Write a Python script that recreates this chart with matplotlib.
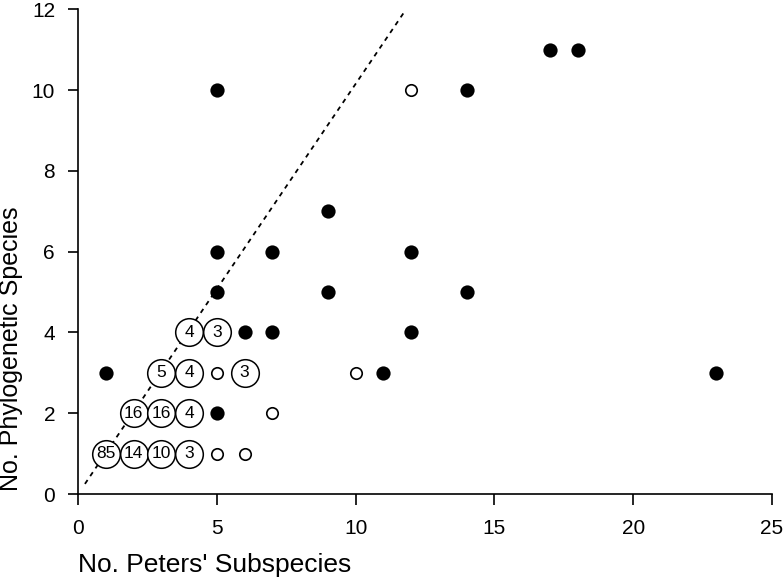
import matplotlib
matplotlib.use("Agg")
import matplotlib.pyplot as plt

# filled points (x, y)
filled_x = [1, 5, 5, 5, 6, 7, 7, 9, 9, 12, 12, 11, 14, 14, 17, 18, 23, 5]
filled_y = [3, 10, 6, 5, 4, 4, 6, 7, 5, 6, 4, 3, 10, 5, 11, 11, 3, 2]
# small open points
open_x = [12, 5, 10, 7, 5, 6]
open_y = [10, 3, 3, 2, 1, 1]
# labelled circles (counts)
lab_x = [4, 5, 3, 4, 6, 2, 3, 4, 1, 2, 3, 4]
lab_y = [4, 4, 3, 3, 3, 2, 2, 2, 1, 1, 1, 1]
lab_n = ["4", "3", "5", "4", "3", "16", "16", "4", "85", "14", "10", "3"]
# dashed reference line endpoints
line_x = [0.25, 11.75]
line_y = [0.25, 11.93]

xticks = [0, 5, 10, 15, 20, 25]
yticks = [0, 2, 4, 6, 8, 10, 12]

plt.rcParams['font.family'] = ['Liberation Sans', 'DejaVu Sans']

fig = plt.figure(figsize=(7.84, 5.8), dpi=100)
ax = fig.add_axes([78/784, 86/580, 694/784, 484.7/580])

ax.plot(line_x, line_y, linestyle=(0, (2.6, 2.6)), color='black', lw=1.3, zorder=1)

ax.scatter(filled_x, filled_y, s=105, color='black', linewidth=0, zorder=3)
ax.scatter(open_x, open_y, s=68, facecolor='white', edgecolor='black', linewidth=1.2, zorder=3)
ax.scatter(lab_x, lab_y, s=395, facecolor='white', edgecolor='black', linewidth=1.1, zorder=3)
for x, y, t in zip(lab_x, lab_y, lab_n):
    ax.text(x, y, t, ha='center', va='center', fontsize=12.5, zorder=4)

ax.set_xlim(0, 25)
ax.set_ylim(0, 12)
ax.set_xticks(xticks)
ax.set_yticks(yticks)
ax.set_xticklabels([str(v) for v in xticks], fontsize=15)
ax.set_yticklabels([str(v) for v in yticks], fontsize=15)
ax.tick_params(axis='x', direction='out', length=8, width=1.2, pad=10)
ax.tick_params(axis='y', direction='out', length=7.5, width=1.2, pad=9)
for s in ['top', 'right']:
    ax.spines[s].set_visible(False)
for s in ['left', 'bottom']:
    ax.spines[s].set_linewidth(1.2)

fig.text(78/784, 1 - 565/580, "No. Peters' Subspecies", fontsize=19, ha='left', va='center')
fig.text(11/784, 1 - 349/580, "No. Phylogenetic Species", fontsize=18, rotation=90, ha='center', va='center')

fig.savefig("out.png", dpi=100)
